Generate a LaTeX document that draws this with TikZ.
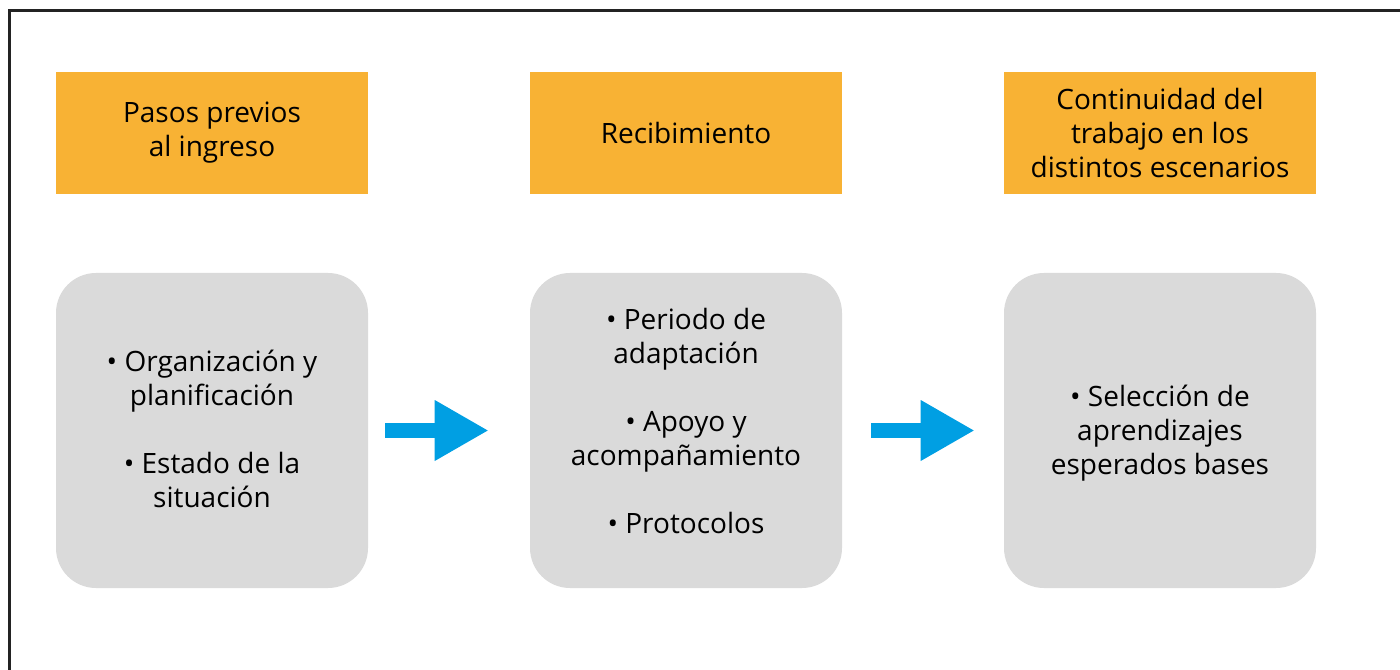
\documentclass[tikz,border=0pt]{standalone}
\usepackage{fontspec}
\setmainfont{Open Sans}
\usetikzlibrary{arrows.meta}
\definecolor{headorange}{RGB}{248,178,52}
\definecolor{boxgray}{RGB}{218,218,218}
\definecolor{arrowblue}{RGB}{0,159,227}
\definecolor{framegray}{RGB}{35,35,35}
\tikzset{
  frame-line/.style={
    draw=framegray,
    line width=2.25pt
  },
  head-box/.style={
    fill=headorange,
    minimum width=234pt,
    minimum height=91.5pt,
    inner sep=0pt,
    align=center,
    font=\fontsize{21}{25.5}\selectfont
  },
  stage-box/.style={
    fill=boxgray,
    rounded corners=30pt,
    minimum width=234pt,
    minimum height=236.25pt,
    inner sep=0pt
  },
  stage-text/.style={
    inner sep=0pt,
    align=center,
    font=\fontsize{21}{25.5}\selectfont
  },
  flow-arrow/.style={
    draw=arrowblue,
    line width=11.25pt,
    -{Triangle[length=39.75pt, width=45.75pt, line width=0pt]}
  }
}

\begin{document}
\begin{tikzpicture}[x=0.75pt, y=-0.75pt]
  \useasboundingbox (0,0) rectangle (1400,670);
  % outer frame (only top and left edges fall on the page)
  \draw[frame-line] (9,690) -- (9,11) -- (1420,11);
  % headers
  \node[head-box] (head-a) at (212,133) {Pasos previos\\al ingreso};
  \node[head-box] (head-b) at (686,133) {Recibimiento};
  \node[head-box] (head-c) at (1160,133) {Continuidad del\\trabajo en los\\distintos escenarios};
  % stages
  \node[stage-box] (stage-a) at (212,430.5) {};
  \node[stage-box] (stage-b) at (686,430.5) {};
  \node[stage-box] (stage-c) at (1160,430.5) {};
  \node[stage-text] (text-a) at ([yshift=1pt]stage-a.center) {• Organización y\\planificación\\[25.5pt]• Estado de la\\situación};
  \node[stage-text] (text-b) at ([yshift=7pt]stage-b.center) {• Periodo de\\adaptación\\[25.5pt]• Apoyo y\\acompañamiento\\[25.5pt]• Protocolos};
  \node[stage-text] (text-c) at ([yshift=-2pt]stage-c.center) {• Selección de\\aprendizajes\\esperados bases};
  % arrows between stages
  \draw[flow-arrow] ([xshift=12.75pt]stage-a.east) -- ([xshift=-31.5pt]stage-b.west);
  \draw[flow-arrow] ([xshift=21.75pt]stage-b.east) -- ([xshift=-22.5pt]stage-c.west);
\end{tikzpicture}
\end{document}
